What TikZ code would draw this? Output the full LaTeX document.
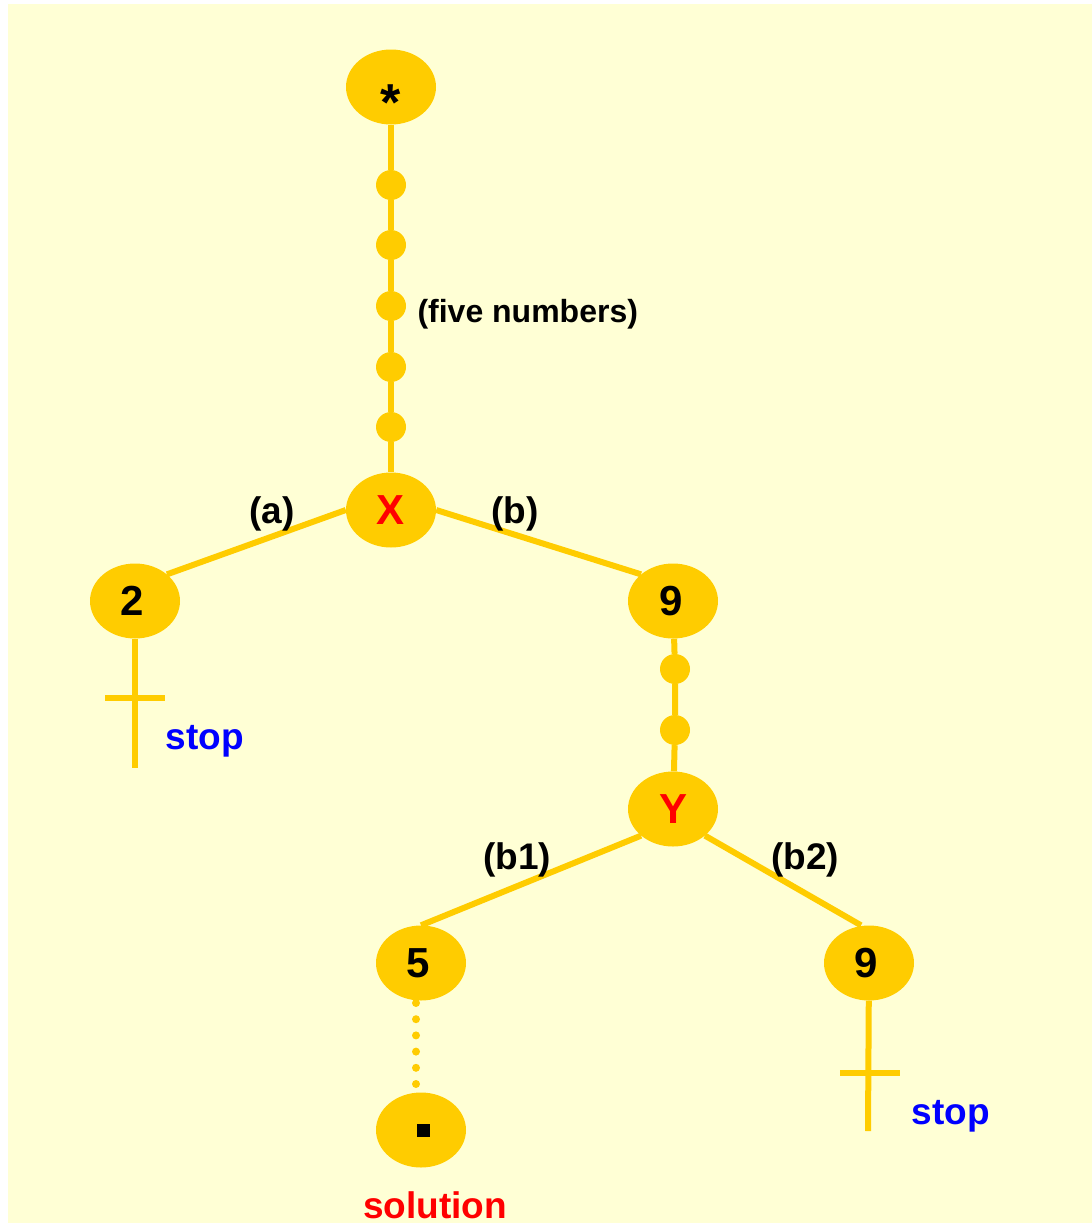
\documentclass[tikz,border=0pt]{standalone}
\usepackage{fontspec}
\setmainfont{Liberation Sans}
\usetikzlibrary{shapes.geometric}
\definecolor{paper}{HTML}{FFFFD5}
\definecolor{gold}{HTML}{FFCC00}
\definecolor{hot}{HTML}{FF0000}
\definecolor{cool}{HTML}{0000FF}
\begin{document}
\begin{tikzpicture}[x=1pt,y=-1pt,
  state/.style={ellipse, fill=gold, minimum width=90pt, minimum height=75pt,
    inner sep=0pt, font=\fontsize{42}{42}\selectfont\bfseries},
  bead/.style={circle, fill=gold, minimum size=30pt, inner sep=0pt},
  edge/.style={draw=gold, line width=6pt},
  dotline/.style={draw=gold, line width=8pt, line cap=round, dash pattern=on 0pt off 16.2pt},
  lbl/.style={font=\fontsize{37}{37}\selectfont\bfseries},
  smalllbl/.style={font=\fontsize{32}{32}\selectfont\bfseries}]

  % page and background
  \fill[white] (0,0) rectangle (1092,1224);
  \fill[paper] (8,4) rectangle (1092,1223);
  \useasboundingbox (0,0) rectangle (1092,1224);

  % main states
  \node[state] (root) at (391,87) {\fontsize{52}{52}\selectfont\raisebox{-33pt}[0pt][0pt]{*}};
  \node[state] (x) at (391,510) {\textcolor{hot}{X}};
  \node[state] (two) at (135,601) {\hspace*{-6pt}2};
  \node[state] (nineA) at (673,601) {\hspace*{-3pt}9};
  \node[state] (y) at (673,809) {\textcolor{hot}{Y}};
  \node[state] (five) at (421,963) {\hspace*{-6pt}5};
  \node[state] (nineB) at (869,963) {\hspace*{-6pt}9};
  \node[state] (sol) at (421,1130) {\hspace*{5pt}\raisebox{-3pt}{\rule{13pt}{13pt}}};

  % intermediate numbers
  \node[bead] (p1) at (391,185) {};
  \node[bead] (p2) at (391,245) {};
  \node[bead] (p3) at (391,306) {};
  \node[bead] (p4) at (391,367) {};
  \node[bead] (p5) at (391,427) {};
  \node[bead] (q1) at (675,669) {};
  \node[bead] (q2) at (675,730) {};

  % chains
  \draw[edge] (root) -- (p1) -- (p2) -- (p3) -- (p4) -- (p5) -- (x);
  \draw[edge] (nineA) -- (q1) -- (q2) -- (y);
  \draw[edge] (x.west) -- (two.north east);
  \draw[edge] (x.east) -- (nineA.north west);
  \draw[edge] (y.south west) -- (five.north);
  \draw[edge] (y.south east) -- ([xshift=-8pt]nineB.north);
  \coordinate (dotTop) at (416,1003);
  \coordinate (dotBot) at (416,1084);
  \draw[dotline] (dotTop) -- (dotBot);

  % dead ends
  \coordinate (endA) at (135,768);
  \coordinate (barAl) at (105,698);
  \coordinate (barAr) at (165,698);
  \draw[edge] (two) -- (endA);
  \draw[edge] (barAl) -- (barAr);
  \coordinate (endB) at (868,1131);
  \coordinate (barBl) at (840,1073);
  \coordinate (barBr) at (900,1073);
  \draw[edge] (nineB) -- (endB);
  \draw[edge] (barBl) -- (barBr);

  % labels
  \node[smalllbl, anchor=west] (five-numbers) at (414,314) {(five numbers)};
  \node[lbl] (la) at (272,514) {(a)};
  \node[lbl] (lb) at (515,514) {(b)};
  \node[lbl] (lb1) at (517,860) {(b1)};
  \node[lbl] (lb2) at (805,860) {(b2)};
  \node[lbl, anchor=base west, text=cool] (stopA) at (162,749) {stop};
  \node[lbl, anchor=base west, text=cool] (stopB) at (908,1124) {stop};
  \node[lbl, anchor=base, text=hot] (solution) at (435,1218) {solution};
\end{tikzpicture}
\end{document}
